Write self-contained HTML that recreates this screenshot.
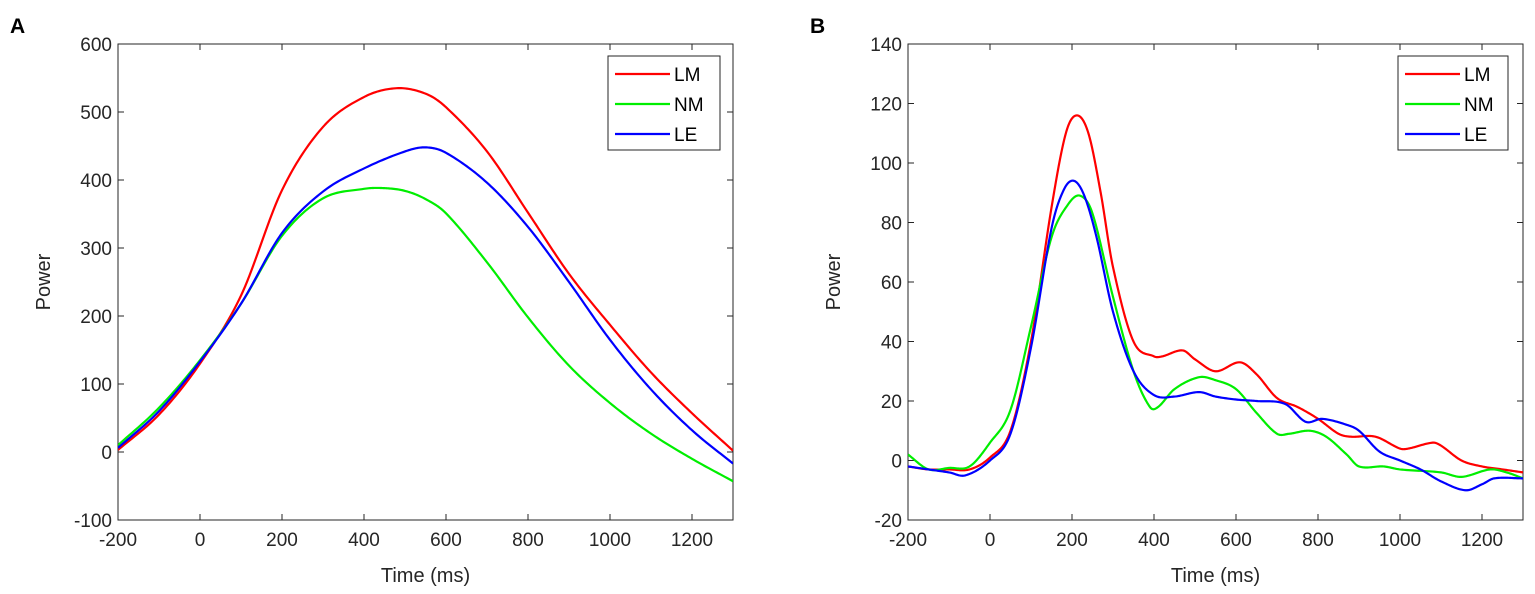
<!DOCTYPE html>
<html><head><meta charset="utf-8"><style>
body{margin:0;background:#fff}
svg{display:block;font-family:"Liberation Sans",Arial,sans-serif}
</style></head><body>
<svg id="s" width="1535" height="594" viewBox="0 0 1535 594">
<rect width="1535" height="594" fill="#fff"/>
<text x="10" y="33" font-size="21" font-weight="bold">A</text>
<text x="810" y="33" font-size="21" font-weight="bold">B</text>
<g id="A"></g><g id="B"></g>
</svg>
<script>
const NS="http://www.w3.org/2000/svg";
function el(p,t,a,txt){const e=document.createElementNS(NS,t);for(const k in a)e.setAttribute(k,a[k]);if(txt!==undefined)e.textContent=txt;p.appendChild(e);return e;}
function interp(d){const n=d.length,m=[];
 for(let i=0;i<n;i++){const a=d[Math.max(0,i-1)],b=d[Math.min(n-1,i+1)];m.push((b[1]-a[1])/(b[0]-a[0]));}
 const out=[];
 for(let i=0;i<n-1;i++){const[t0,y0]=d[i],[t1,y1]=d[i+1],h=t1-t0;
  for(let k=0;k<20;k++){const s=k/20,s2=s*s,s3=s2*s;
   out.push([t0+s*h,(2*s3-3*s2+1)*y0+(s3-2*s2+s)*h*m[i]+(-2*s3+3*s2)*y1+(s3-s2)*h*m[i+1]]);}}
 out.push(d[n-1]);return out;}
function panel(g,L,R,T,B,ymin,ymax,ystep,series){
 const X=t=>L+(t+200)/1500*(R-L), Y=v=>B-(v-ymin)/(ymax-ymin)*(B-T);
 el(g,'rect',{x:L,y:T,width:R-L,height:B-T,fill:'none',stroke:'#262626','stroke-width':1});
 for(let t=-200;t<=1200;t+=200){const x=X(t);
  el(g,'line',{x1:x,y1:B,x2:x,y2:B-6,stroke:'#262626'});el(g,'line',{x1:x,y1:T,x2:x,y2:T+6,stroke:'#262626'});
  el(g,'text',{x:x,y:B+26,'font-size':19,'text-anchor':'middle',fill:'#262626'},t);}
 for(let v=ymin;v<=ymax;v+=ystep){const y=Y(v);
  el(g,'line',{x1:L,y1:y,x2:L+6,y2:y,stroke:'#262626'});el(g,'line',{x1:R,y1:y,x2:R-6,y2:y,stroke:'#262626'});
  el(g,'text',{x:L-6,y:y+7,'font-size':19,'text-anchor':'end',fill:'#262626'},v);}
 el(g,'text',{x:(L+R)/2,y:B+62,'font-size':20,'text-anchor':'middle',fill:'#262626'},'Time (ms)');
 el(g,'text',{x:0,y:0,'font-size':20,'text-anchor':'middle',fill:'#262626',transform:`translate(${L-68},${(T+B)/2}) rotate(-90)`},'Power');
 const cp=el(g,'clipPath',{id:'c'+L});el(cp,'rect',{x:L,y:T,width:R-L,height:B-T});
 series.forEach(s=>{
  const P=interp(s.d).map(p=>X(p[0]).toFixed(2)+','+Y(p[1]).toFixed(2));
  el(g,'polyline',{points:P.join(' '),fill:'none',stroke:s.c,'stroke-width':2.2,'stroke-linejoin':'round','clip-path':`url(#c${L})`});
 });
}
const A=document.getElementById('A'),Bg=document.getElementById('B');
panel(A,118,733,44,520,-100,600,100,[
{c:'#ff0000',d:[[-200,3],[-100,55],[0,130],[100,230],[200,385],[300,478],[400,522],[480,535],[550,527],[600,507],[700,442],[800,352],[900,262],[1000,187],[1100,117],[1200,57],[1300,2]]},
{c:'#00ee00',d:[[-200,10],[-100,65],[0,135],[100,218],[200,318],[300,373],[400,387],[450,388],[500,384],[550,372],[600,351],[700,279],[800,198],[900,127],[1000,72],[1100,27],[1200,-10],[1300,-43]]},
{c:'#0000ff',d:[[-200,6],[-100,60],[0,133],[100,218],[200,322],[300,383],[400,417],[500,442],[550,448],[600,440],[700,396],[800,331],[900,250],[1000,165],[1100,92],[1200,32],[1300,-17]]}
]);
panel(Bg,908,1523,44,520,-20,140,20,[
{c:'#ff0000',d:[[-200,-2],[-150,-3],[-100,-3],[-50,-3],[0,1],[50,10],[100,40],[150,85],[185,110],[212,116],[240,110],[270,90],[300,65],[350,40],[400,35],[420,35],[470,37],[500,34],[550,30],[610,33],[650,29],[700,21],[750,18],[800,14],[850,9],[880,8],[940,8],[1000,4],[1020,4],[1080,6],[1100,5],[1150,0],[1200,-2],[1250,-3],[1300,-4]]},
{c:'#00ee00',d:[[-200,2],[-150,-3],[-100,-2.5],[-50,-2],[0,6],[50,17],[100,45],[150,75],[190,86],[220,89],[250,83],[300,55],[350,30],[390,18],[410,18],[450,24],[510,28],[550,27],[600,24],[650,16],[700,9],[730,9],[780,10],[820,8],[870,2],[900,-2],[960,-2],[1000,-3],[1100,-4],[1150,-5.5],[1220,-3],[1260,-4],[1300,-6]]},
{c:'#0000ff',d:[[-200,-2],[-150,-3],[-100,-4],[-60,-5],[0,0],[50,9],[100,38],[150,78],[180,91],[205,94],[230,89],[260,75],[300,50],[350,30],[400,22],[450,21.5],[510,23],[550,21.5],[600,20.5],[650,20],[720,19],[770,13],[810,14],[870,12],[900,10],[950,3],[1000,0],[1050,-3],[1100,-7],[1160,-10],[1200,-8],[1230,-6],[1300,-6]]}
]);
[[A,608,720],[Bg,1398,1508]].forEach(([g,x1,x2])=>{
 el(g,'rect',{x:x1,y:56,width:x2-x1,height:94,fill:'#fff',stroke:'#262626'});
 [['#ff0000','LM'],['#00ee00','NM'],['#0000ff','LE']].forEach((s,i)=>{const y=74+i*30;
  el(g,'line',{x1:x1+7,y1:y,x2:x1+62,y2:y,stroke:s[0],'stroke-width':2.2});
  el(g,'text',{x:x1+66,y:y+7,'font-size':19,fill:'#000'},s[1]);});
});
</script>
</body></html>
